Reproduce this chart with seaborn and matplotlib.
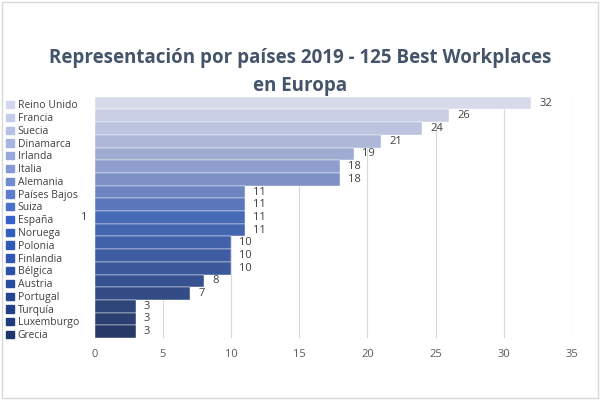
import matplotlib
matplotlib.use("Agg")
import matplotlib.pyplot as plt
import seaborn as sns
import pandas as pd
import numpy as np
from matplotlib.colors import LinearSegmentedColormap
from matplotlib.patches import Rectangle

countries = ["Reino Unido","Francia","Suecia","Dinamarca","Irlanda","Italia","Alemania",
             "Países Bajos","Suiza","España","Noruega","Polonia","Finlandia","Bélgica",
             "Austria","Portugal","Turquía","Luxemburgo","Grecia"]
values = [32,26,24,21,19,18,18,11,11,11,11,10,10,10,8,7,3,3,3]
xticks = [0,5,10,15,20,25,30,35]

df = pd.DataFrame({"country": countries, "value": values})
cmap = LinearSegmentedColormap.from_list("g", ["#d4d8ee", "#8fa0d8", "#3563c9", "#2a4fa6", "#1d3670"])
palette = [cmap(t) for t in np.linspace(0, 1, len(countries))]

plt.rcParams["font.family"] = "Open Sans"
fig = plt.figure(figsize=(6, 4), dpi=100)
ax = fig.add_axes([0.158, 0.155, 0.795, 0.603])
sns.barplot(data=df, x="value", y="country", hue="country", palette=palette,
            dodge=False, width=1.0, legend=False, ax=ax, edgecolor="white", linewidth=0.3)
ax.set_xlim(0, 35)
ax.set_ylim(len(countries) - 0.5, -0.5)
ax.set_xticks(xticks)
ax.tick_params(axis="x", length=0, colors="#595959", labelsize=8, pad=8)
ax.set_yticks([])
ax.set_xlabel(""); ax.set_ylabel("")
ax.xaxis.grid(True, color="#d9d9d9", linewidth=0.8)
ax.set_axisbelow(True)
for s in ax.spines.values():
    s.set_visible(False)
for i, v in enumerate(values):
    ax.text(v + 0.6, i, str(v), va="center", ha="left", fontsize=8, color="#404040")

handles = [Rectangle((0, 0), 1, 1, color=c) for c in palette]
fig.legend(handles, countries, loc="upper left", bbox_to_anchor=(0.0, 0.765), frameon=False,
           fontsize=7.5, handlelength=0.7, handleheight=0.7, handletextpad=0.4,
           labelspacing=0.17, labelcolor="#404040", borderaxespad=0.2)
fig.text(0.14, 0.455, "1", fontsize=8, color="#404040", ha="center", va="center")
fig.suptitle("Representación por países 2019 - 125 Best Workplaces\nen Europa",
             y=0.88, fontsize=13.5, fontweight="bold", color="#44546a", linespacing=1.5)
fig.patches.append(Rectangle((0.003, 0.005), 0.994, 0.99, transform=fig.transFigure,
                             fill=False, edgecolor="#d9d9d9", linewidth=1))
fig.savefig("out.png", dpi=100)
